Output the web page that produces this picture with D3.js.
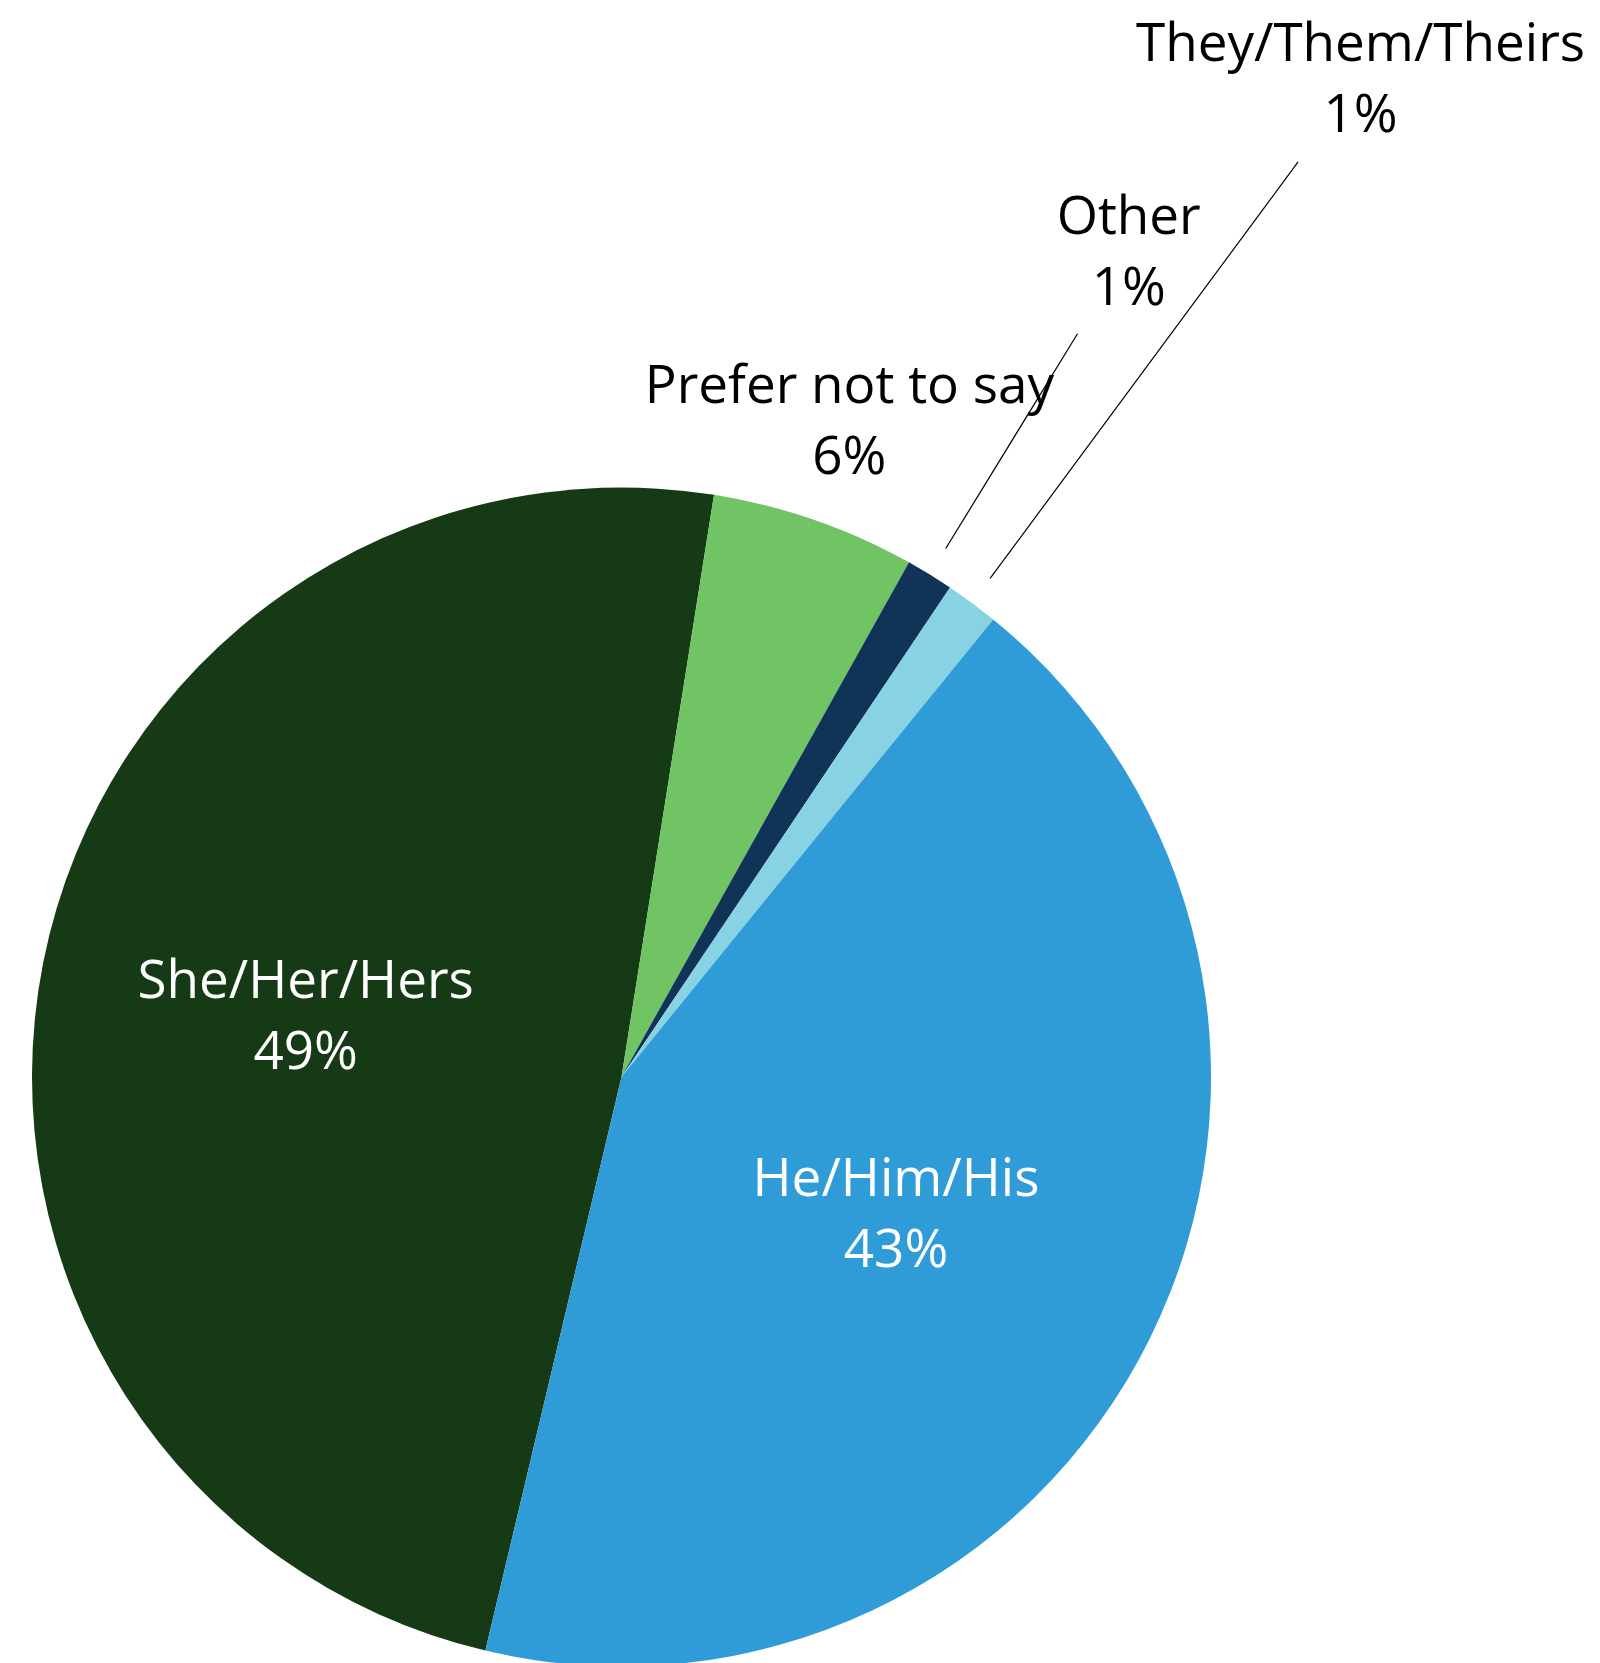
<!DOCTYPE html>
<html>
<head>
<meta charset="utf-8">
<script src="https://cdn.jsdelivr.net/npm/d3@7/dist/d3.min.js"></script>
<style>
  html, body { margin: 0; padding: 0; background: #fff; }
  svg { display: block; }
  text { font-family: "Open Sans", "Noto Sans", sans-serif; }
</style>
</head>
<body>
<svg id="chart" width="1600" height="1663"></svg>
<script>
// Data
const categories = ["She/Her/Hers", "Prefer not to say", "Other", "They/Them/Theirs", "He/Him/His"];
const values = [48.8, 5.6, 1.3, 1.45, 42.85];
const pctLabels = ["49%", "6%", "1%", "1%", "43%"];
const colors = ["#163A15", "#70C463", "#0F3457", "#87D3E3", "#2F9CD8"];

// Layout
const W = 1600, H = 1663;
const cx = 621.5, cy = 1077, R = 589.5;
const startDeg = 193.35;
const labelRadius = [322, 696, 970, 1243, 306];
const inside = [true, false, false, false, true];
const leader = [null, null, [620, 872], [620, 1138], null];
const fontSize = 53;

const svg = d3.select("#chart");
const g = svg.append("g").attr("transform", `translate(${cx},${cy})`);

const start = startDeg * Math.PI / 180;
const pie = d3.pie().sort(null).value(d => d.v)
  .startAngle(start).endAngle(start + 2 * Math.PI);
const data = categories.map((c, i) => ({ c, v: values[i], p: pctLabels[i], i }));
const arcs = pie(data);
const arc = d3.arc().innerRadius(0).outerRadius(R);

g.selectAll("path.slice").data(arcs).join("path")
  .attr("class", "slice")
  .attr("d", arc)
  .attr("fill", d => colors[d.data.i]);

function pt(a, r) { return [r * Math.sin(a), -r * Math.cos(a)]; }

// leader lines
g.selectAll("line.leader").data(arcs.filter(d => leader[d.data.i])).join("line")
  .attr("class", "leader")
  .each(function(d) {
    const m = (d.startAngle + d.endAngle) / 2;
    const [r0, r1] = leader[d.data.i];
    const a = pt(m, r0), b = pt(m, r1);
    d3.select(this).attr("x1", a[0]).attr("y1", a[1]).attr("x2", b[0]).attr("y2", b[1]);
  })
  .attr("stroke", "#000").attr("stroke-width", 1.2);

// labels
const lbl = g.selectAll("g.lbl").data(arcs).join("g").attr("class", "lbl")
  .attr("transform", d => {
    const m = (d.startAngle + d.endAngle) / 2;
    const p = pt(m, labelRadius[d.data.i]);
    return `translate(${p[0]},${p[1]})`;
  });
lbl.append("text").attr("text-anchor", "middle").attr("y", -16.5)
  .attr("font-size", fontSize)
  .attr("fill", d => inside[d.data.i] ? "#fff" : "#000")
  .text(d => d.data.c);
lbl.append("text").attr("text-anchor", "middle").attr("y", 54.5)
  .attr("font-size", fontSize)
  .attr("fill", d => inside[d.data.i] ? "#fff" : "#000")
  .text(d => d.data.p);
</script>
</body>
</html>
